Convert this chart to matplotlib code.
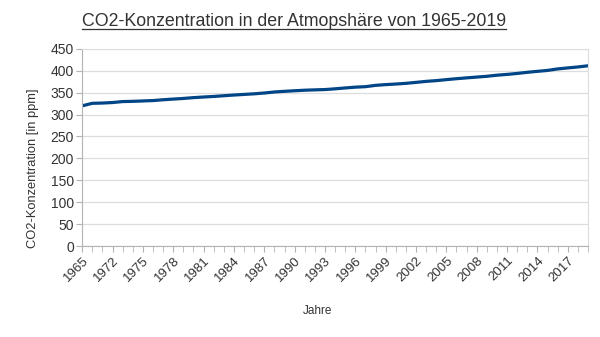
import matplotlib
matplotlib.use("Agg")
import matplotlib.pyplot as plt
import numpy as np

plt.rcParams['font.family'] = ['Liberation Sans', 'DejaVu Sans']

# Jahre (1965, dann 1970-2019)
years = [1965] + list(range(1970, 2020))
co2 = [320.0, 325.7, 326.3, 327.5, 329.7, 330.2, 331.1, 332.0, 333.8, 335.4,
       336.8, 338.7, 340.1, 341.4, 343.0, 344.6, 346.0, 347.4, 349.2, 351.6,
       353.1, 354.4, 355.6, 356.4, 357.1, 358.8, 360.8, 362.6, 363.7, 366.7,
       368.4, 369.7, 371.3, 373.5, 375.8, 377.5, 379.8, 381.9, 383.8, 385.6,
       387.4, 389.9, 391.7, 393.9, 396.5, 398.7, 400.8, 404.2, 406.5, 408.7,
       411.4]
yticks = list(range(0, 451, 50))

fig = plt.figure(figsize=(6, 3.37), dpi=100)
ax = fig.add_axes([0.137, 0.27, 0.843, 0.585])

x = np.arange(len(years))
ax.plot(x, co2, color="#004586", lw=2.3, solid_capstyle="round")

ax.set_xlim(0, len(years) - 1)
ax.set_ylim(0, 450)
ax.set_yticks(yticks)
ax.set_xticks(x, minor=True)
ax.set_xticks(x[::3])
ax.set_xticklabels([str(years[i]) for i in x[::3]], rotation=45, ha="right",
                   rotation_mode="anchor", fontsize=9.5, color="#333333")
ax.tick_params(axis="x", which="both", length=4, color="#b3b3b3", pad=2)
ax.tick_params(axis="y", length=4, color="#b3b3b3", labelsize=10,
               labelcolor="#333333", pad=2)
ax.grid(axis="y", color="#dddddd", lw=0.9)
ax.set_axisbelow(True)
for s in ax.spines.values():
    s.set_color("#dddddd")
ax.spines["left"].set_color("#b3b3b3")
ax.spines["bottom"].set_color("#b3b3b3")

fig.text(0.055, 0.502, "CO2-Konzentration [in ppm]", rotation=90, ha="center",
         va="center", fontsize=9.3, color="#333333")
fig.text(0.53, 0.077, "Jahre", ha="center", va="center", fontsize=8.5, color="#333333")

t = fig.text(0.49, 0.935, "CO2-Konzentration in der Atmopshäre von 1965-2019",
             ha="center", va="center", fontsize=12.8, color="#333333")
# Unterstreichung
fig.canvas.draw()
bb = t.get_window_extent().transformed(fig.transFigure.inverted())
fig.add_artist(plt.Line2D([bb.x0, bb.x1], [bb.y0 + 0.004, bb.y0 + 0.004],
                          transform=fig.transFigure, color="#333333", lw=0.9))

fig.savefig("out.png", dpi=100)
